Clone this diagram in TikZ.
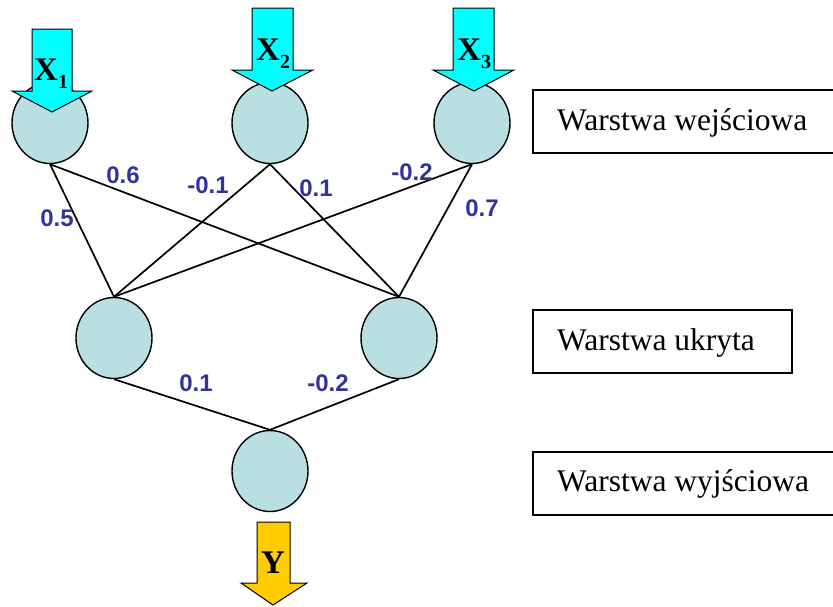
\documentclass[tikz,border=0pt]{standalone}
\usepackage{fontspec}
\setmainfont{Liberation Serif}
\newfontfamily\labelfont{Liberation Sans}
\usetikzlibrary{shapes.geometric}
\definecolor{nodefill}{RGB}{185,223,226}
\definecolor{inarrow}{RGB}{0,255,255}
\definecolor{outarrow}{RGB}{255,204,0}
\definecolor{wblue}{RGB}{51,51,153}
\tikzset{
  neuron/.style={ellipse, draw=black, line width=1.4pt, fill=nodefill, minimum width=76pt, minimum height=81pt, inner sep=0pt},
  conn/.style={line width=1.7pt, black},
  weight/.style={font=\labelfont\bfseries\fontsize{24}{24}\selectfont, text=wblue, inner sep=0pt},
  layerbox/.style={draw=black, line width=1.4pt, fill=white},
  layertext/.style={font=\fontsize{31.5}{31.5}\selectfont, anchor=base west, inner sep=0pt},
  arrowshape/.style={draw=black, line width=1pt, line join=miter},
  xlab/.style={font=\bfseries\fontsize{33}{33}\selectfont, anchor=base west, inner sep=0pt}
}
\begin{document}
\begin{tikzpicture}[x=1pt,y=-1pt]
\useasboundingbox (0,0) rectangle (833,606);
\clip (0,0) rectangle (833,606);
% neurons
\node[neuron] (i1) at (50,123) {};
\node[neuron] (i2) at (270,123) {};
\node[neuron] (i3) at (472,123) {};
\node[neuron] (h1) at (114,338) {};
\node[neuron] (h2) at (399,338) {};
\node[neuron] (o) at (270,471) {};
% connections
\draw[conn] (i1.south) -- (h1.north);
\draw[conn] (i1.south) -- (h2.north);
\draw[conn] (i2.south) -- (h1.north);
\draw[conn] (i2.south) -- (h2.north);
\draw[conn] (i3.south) -- (h1.north);
\draw[conn] (i3.south) -- (h2.north);
\draw[conn] (h1.south) -- (o.north);
\draw[conn] (h2.south) -- (o.north);
% weights
\node[weight] (w1) at (123,175) {0.6};
\node[weight] (w2) at (57,218) {0.5};
\node[weight] (w3) at (208,185) {-0.1};
\node[weight] (w4) at (316,188) {0.1};
\node[weight] (w5) at (412,172) {-0.2};
\node[weight] (w6) at (482,208) {0.7};
\node[weight] (w7) at (196,383) {0.1};
\node[weight] (w8) at (328,383) {-0.2};
% input arrows
\draw[arrowshape, fill=inarrow] (32,29) -- (72,29) -- (72,91) -- (92,91) -- (52,112) -- (12,91) -- (32,91) -- cycle;
\draw[arrowshape, fill=inarrow] (252,8) -- (293,8) -- (293,70) -- (313,70) -- (272,91) -- (232,70) -- (252,70) -- cycle;
\draw[arrowshape, fill=inarrow] (453,8) -- (494,8) -- (494,70) -- (514,70) -- (474,91) -- (433,70) -- (453,70) -- cycle;
\node[xlab] (x1) at (34,80) {X\raisebox{-8pt}{\fontsize{20}{20}\selectfont 1}};
\node[xlab] (x2) at (256,60) {X\raisebox{-8pt}{\fontsize{20}{20}\selectfont 2}};
\node[xlab] (x3) at (457,60) {X\raisebox{-8pt}{\fontsize{20}{20}\selectfont 3}};
% output arrow
\draw[arrowshape, fill=outarrow] (257,522) -- (290,522) -- (290,583) -- (307,583) -- (273,605) -- (241,583) -- (257,583) -- cycle;
\node[xlab] (y) at (261,573) {Y};
% layer boxes
\draw[layerbox] (533,90) rectangle (840,153);
\node[layertext] (l1) at (557,130) {Warstwa wejściowa};
\draw[layerbox] (533,310) rectangle (792,373);
\node[layertext] (l2) at (557,350) {Warstwa ukryta};
\draw[layerbox] (533,452) rectangle (840,515);
\node[layertext] (l3) at (557,491) {Warstwa wyjściowa};
\end{tikzpicture}
\end{document}
